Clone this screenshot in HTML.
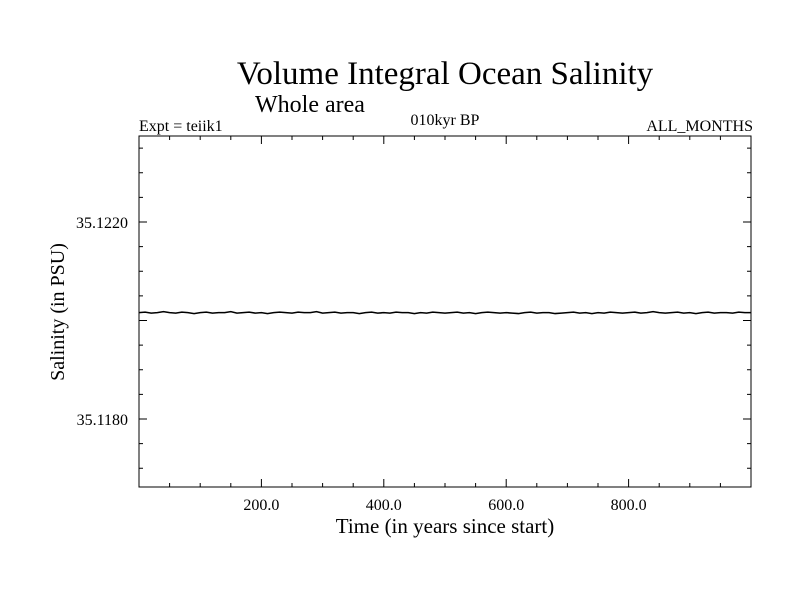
<!DOCTYPE html>
<html><head><meta charset="utf-8"><style>
body{margin:0;background:#fff}
svg text{font-family:"Liberation Serif",serif;fill:#000}
</style></head><body>
<svg id="chart" width="800" height="600" xmlns="http://www.w3.org/2000/svg">
<text x="445" y="84" font-size="33" text-anchor="middle">Volume Integral Ocean Salinity</text>
<text x="310" y="112" font-size="24" text-anchor="middle">Whole area</text>
<text x="139" y="131" font-size="16">Expt = teiik1</text>
<text x="445" y="125" font-size="16" text-anchor="middle">010kyr BP</text>
<text x="753" y="131" font-size="16" text-anchor="end">ALL_MONTHS</text>
<text x="445" y="533" font-size="21" text-anchor="middle">Time (in years since start)</text>
<text transform="translate(64,312) rotate(-90)" font-size="20" text-anchor="middle">Salinity (in PSU)</text>
<rect x="139" y="136" width="612" height="351" fill="none" stroke="#000" stroke-width="1"/>
<g id="ticks"></g>
<polyline id="line" fill="none" stroke="#000" stroke-width="1.6"/>
</svg>
<script>
const xTickValues=[200,400,600,800];
const xTickLabels=["200.0","400.0","600.0","800.0"];
const yTickValues=[35.118,35.122];
const yTickLabels=["35.1180","35.1220"];
const years=[];for(let i=0;i<=100;i++)years.push(i*10);
const salinity=[35.12016,35.12017,35.12015,35.12016,35.12018,35.12016,35.12015,35.12017,35.12016,35.12014,
35.12016,35.12017,35.12015,35.12016,35.12016,35.12018,35.12015,35.12016,35.12017,35.12015,
35.12016,35.12014,35.12016,35.12017,35.12016,35.12015,35.12017,35.12016,35.12016,35.12018,
35.12015,35.12016,35.12017,35.12015,35.12016,35.12016,35.12014,35.12016,35.12017,35.12015,
35.12016,35.12015,35.12017,35.12016,35.12016,35.12014,35.12016,35.12015,35.12017,35.12016,
35.12015,35.12016,35.12017,35.12015,35.12016,35.12014,35.12016,35.12017,35.12016,35.12015,
35.12016,35.12015,35.12014,35.12016,35.12017,35.12015,35.12016,35.12016,35.12014,35.12015,
35.12016,35.12017,35.12015,35.12016,35.12014,35.12016,35.12015,35.12017,35.12016,35.12015,
35.12016,35.12017,35.12015,35.12016,35.12018,35.12016,35.12015,35.12016,35.12017,35.12015,
35.12016,35.12014,35.12016,35.12017,35.12015,35.12016,35.12016,35.12015,35.12017,35.12016,35.12016];
const X0=139,X1=751,Y0=487,Y1=136,xmin=0,xmax=1000;
const yscale=49250,yref=35.12,yrefPx=320.5;
const xs=v=>X0+(v-xmin)/(xmax-xmin)*(X1-X0);
const ys=v=>yrefPx-(v-yref)*yscale;
const ns="http://www.w3.org/2000/svg";
const g=document.getElementById('ticks');
function ln(x1,y1,x2,y2,name){const l=document.createElementNS(ns,'line');
l.setAttribute('x1',x1);l.setAttribute('y1',y1);l.setAttribute('x2',x2);l.setAttribute('y2',y2);
l.setAttribute('stroke','#000');l.setAttribute('stroke-width','1');


g.appendChild(l);}
function tx(x,y,s,anchor,name){const t=document.createElementNS(ns,'text');
t.setAttribute('x',x);t.setAttribute('y',y);t.setAttribute('font-size','16');t.setAttribute('text-anchor',anchor);t.textContent=s;


g.appendChild(t);}
for(let v=50;v<xmax;v+=50){const x=xs(v);const major=v%200===0;const L=major?8:4;
ln(x,Y0,x,Y0-L,'x-tick');ln(x,Y1,x,Y1+L,'x-tick-top');}
xTickValues.forEach((v,i)=>tx(xs(v),510,xTickLabels[i],'middle','x-tick-label'));
for(let v=35.1165;v<35.1240;v+=0.0005){const y=ys(v);if(y>Y0-1||y<Y1+1)continue;
const major=Math.abs(((v-35.118)/0.002)-Math.round((v-35.118)/0.002))<1e-3;const L=major?8:4;
ln(X0,y,X0+L,y,'y-tick');ln(X1,y,X1-L,y,'y-tick-right');}
yTickValues.forEach((v,i)=>tx(128,ys(v)+6,yTickLabels[i],'end','y-tick-label'));
document.getElementById('line').setAttribute('points',years.map((yr,i)=>xs(yr)+','+ys(salinity[i])).join(' '));
</script>
</body></html>
